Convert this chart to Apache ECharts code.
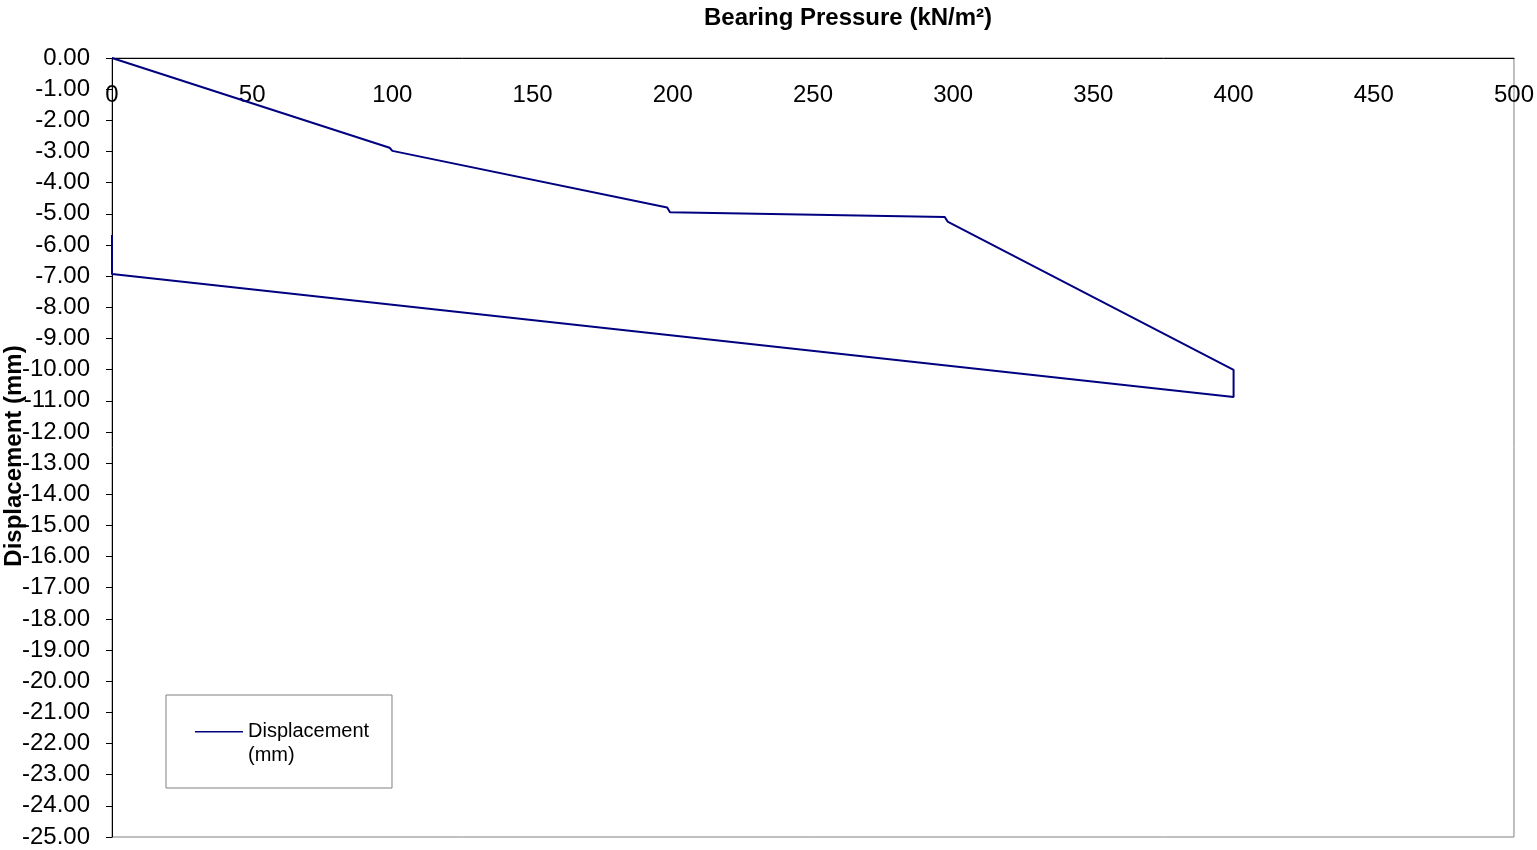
<!DOCTYPE html>
<html>
<head>
<meta charset="utf-8">
<title>Bearing Pressure vs Displacement</title>
<script src="https://cdn.jsdelivr.net/npm/echarts@6/dist/echarts.min.js"></script>
<style>
  html, body { margin: 0; padding: 0; background: #ffffff; }
  #chart { width: 1537px; height: 850px; }
</style>
</head>
<body>
<div id="chart"></div>
<script>
// Plate load test: bearing pressure (kN/m²) against settlement (mm)
const pressure     = [0, 99, 100, 198, 199, 297, 298, 400, 400, 0, 0];
const displacement = [0, -2.88, -2.98, -4.80, -4.95, -5.10, -5.25, -10.01, -10.88, -6.93, -5.68];

const xTicks = { min: 0, max: 500, step: 50 };
const yTicks = { min: -25, max: 0, step: 1 };

const seriesName = 'Displacement (mm)';
const xTitle = 'Bearing Pressure (kN/m\u00B2)';
const yTitle = 'Displacement (mm)';

const FONT = '"Liberation Sans", Arial, sans-serif';
const LINE_COLOR = '#000080';

const points = pressure.map((p, i) => [p, displacement[i]]);

const chart = echarts.init(document.getElementById('chart'), null, { renderer: 'canvas' });

chart.setOption({
  animation: false,
  backgroundColor: '#ffffff',
  textStyle: { fontFamily: FONT, color: '#000' },
  title: {
    text: xTitle,
    left: 843,
    top: 1,
    textAlign: 'center',
    textStyle: { fontFamily: FONT, fontSize: 24, fontWeight: 'bold', color: '#000' }
  },
  grid: {
    left: 112, top: 58, right: 21, bottom: 13,
    show: true,
    borderColor: '#808080',
    borderWidth: 1,
    backgroundColor: 'transparent'
  },
  xAxis: {
    type: 'value',
    position: 'top',
    min: xTicks.min,
    max: xTicks.max,
    interval: xTicks.step,
    axisLine: { show: true, onZero: false, lineStyle: { color: '#000', width: 1 } },
    axisTick: { show: false },
    splitLine: { show: false },
    axisLabel: {
      inside: true,
      margin: 25,
      fontFamily: FONT,
      fontSize: 24,
      color: '#000'
    }
  },
  yAxis: {
    type: 'value',
    min: yTicks.min,
    max: yTicks.max,
    interval: yTicks.step,
    axisLine: { show: true, onZero: false, lineStyle: { color: '#000', width: 1 } },
    axisTick: { show: true, inside: false, length: 6, lineStyle: { color: '#000' } },
    splitLine: { show: false },
    axisLabel: {
      margin: 22,
      fontFamily: FONT,
      fontSize: 24,
      color: '#000',
      formatter: v => v.toFixed(2)
    }
  },
  legend: {
    show: true,
    left: 166,
    top: 695,
    orient: 'vertical',
    backgroundColor: '#ffffff',
    borderColor: '#808080',
    borderWidth: 1,
    borderRadius: 0,
    padding: [24, 14, 21, 29],
    itemWidth: 48,
    itemHeight: 24,
    // thin line sitting at the top of the icon box, level with the first text line
    icon: 'path://M0,0 L48,0 L48,1.4 L0,1.4 Z M0,24 L0.01,24 L0.01,24.01 Z',
    itemStyle: { color: LINE_COLOR, borderWidth: 0 },
    formatter: () => 'Displacement\n(mm)',
    textStyle: { fontFamily: FONT, fontSize: 20, lineHeight: 24, color: '#000', width: 130 },
    data: [seriesName]
  },
  graphic: [
    {
      type: 'text',
      x: 14,
      y: 456,
      rotation: Math.PI / 2,
      style: {
        text: yTitle,
        fontFamily: FONT,
        fontSize: 24,
        fontWeight: 'bold',
        fill: '#000',
        align: 'center',
        verticalAlign: 'middle'
      }
    }
  ],
  series: [
    {
      name: seriesName,
      type: 'line',
      data: points,
      showSymbol: false,
      symbol: 'none',
      lineStyle: { color: LINE_COLOR, width: 2 },
      itemStyle: { color: LINE_COLOR },
      z: 3
    }
  ]
});
</script>
</body>
</html>
